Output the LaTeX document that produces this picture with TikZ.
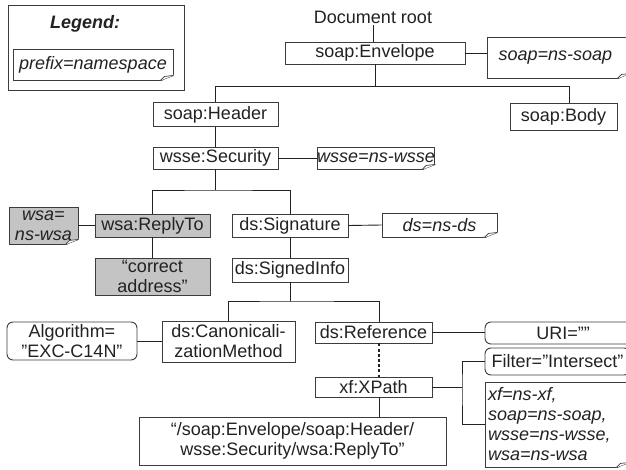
\documentclass[tikz,border=0pt]{standalone}
\usepackage{fontspec}
\setmainfont{Liberation Sans}
\usetikzlibrary{calc}

\definecolor{ink}{RGB}{34,34,34}
\definecolor{edge}{RGB}{60,60,60}
\definecolor{shade}{RGB}{196,196,196}

\tikzset{
  every node/.style={font=\fontsize{18}{20}\selectfont, text=ink},
  box/.style={draw=edge, line width=0.9pt, fill=white, inner sep=0pt, align=center},
  graybox/.style={box, fill=shade},
  roundbox/.style={box, rounded corners=6pt},
  note/.style={box, font=\fontsize{18}{20}\selectfont\itshape},
  ln/.style={draw=ink, line width=0.9pt},
  dotln/.style={draw=ink, line width=2.4pt, dash pattern=on 3pt off 2.2pt},
}

% dog-ear fold at the lower right corner of a note node
\newcommand\foldcorner[1]{%
  \fill[white] ([shift={(1pt,-1pt)}]#1.south east) -- ([shift={(-13pt,-1pt)}]#1.south east)
      -- ([shift={(1pt,6pt)}]#1.south east) -- cycle;
  \draw[draw=edge, line width=0.9pt] ([xshift=-13pt]#1.south east) -- ([yshift=5pt]#1.south east);
  \draw[draw=edge, line width=0.7pt, fill=white, line join=round]
      ([xshift=-13pt]#1.south east) -- ([shift={(-9pt,4pt)}]#1.south east) -- ([yshift=5pt]#1.south east);
}

\begin{document}
\begin{tikzpicture}[x=1pt,y=-1pt]
\useasboundingbox (0,0) rectangle (626,470);
\clip (0,0) rectangle (626,470);
\fill[white] (0,0) rectangle (626,470);

% legend
\node[box, minimum width=176pt, minimum height=85pt] (legend) at (96,47.5) {};
\node[font=\fontsize{18}{20}\selectfont\bfseries\itshape, inner sep=0pt] (legendtitle) at (85,24) {Legend:};
\node[note, minimum width=160pt, minimum height=31pt] (legendnote) at (93,64.5) {prefix=namespace};
\foldcorner{legendnote}

% root
\node[inner sep=2pt] (docroot) at (373,17) {Document root};
\node[box, minimum width=180pt, minimum height=22pt] (env) at (375,53) {soap:Envelope};
\node[note, minimum width=143pt, minimum height=41pt, text width=120pt, align=left] (soapns) at (558.5,57.5) {soap=ns-soap};
\foldcorner{soapns}
\draw[ln] (docroot.south) -- (docroot.south |- env.north);
\draw[ln] (env.east) -- (soapns.west |- env.east);

% header / body
\coordinate (bar1) at (375,86);
\coordinate (bodyjoin) at (569,86);
\node[box, minimum width=125pt, minimum height=24pt] (hdr) at (215.5,114.5) {soap:Header};
\node[box, minimum width=107pt, minimum height=27pt] (body) at (563.5,116.5) {soap:Body};
\draw[ln] (env.south) -- (env.south |- bar1);
\draw[ln] (hdr.north) |- (bodyjoin) -- (bodyjoin |- body.north);

% security
\node[box, minimum width=125pt, minimum height=22pt] (sec) at (215.5,158) {wsse:Security};
\node[note, minimum width=116pt, minimum height=22pt] (wssens) at (376,158) {wsse=ns-wsse};
\foldcorner{wssens}
\draw[ln] (hdr.south) -- (sec.north);
\draw[ln] (sec.east) -- (wssens.west);

% reply-to and signature
\coordinate (bar2) at (215.5,190);
\node[graybox, minimum width=115pt, minimum height=23pt] (replyto) at (152.5,225.5) {wsa:ReplyTo};
\node[note, fill=shade, minimum width=69pt, minimum height=37pt] (wsans) at (43.5,225.5) {wsa=\\ns-wsa};
\foldcorner{wsans}
\node[graybox, minimum width=115pt, minimum height=37pt] (addr) at (152.5,276.5) {“correct\\address”};
\node[box, minimum width=116pt, minimum height=23pt] (sig) at (290,225.5) {ds:Signature};
\node[note, minimum width=115pt, minimum height=24pt] (dsns) at (439.5,225) {ds=ns-ds};
\foldcorner{dsns}
\node[box, minimum width=116pt, minimum height=24pt] (sinfo) at (290,270) {ds:SignedInfo};
\draw[ln] (sec.south) -- (sec.south |- bar2);
\draw[ln] (replyto.north) |- (bar2) -| (sig.north);
\draw[ln] (wsans.east) -- (replyto.west);
\draw[ln] (replyto.south) -- (addr.north);
\draw[ln] (sig.east) -- (dsns.west);
\draw[ln] (sig.south) -- (sinfo.north);

% signed info children
\coordinate (bar3) at (290,301);
\coordinate (refjoin) at (379,301);
\node[box, minimum width=133pt, minimum height=41pt] (canon) at (228.5,341.5) {ds:Canonicali-\\zationMethod};
\node[roundbox, minimum width=130pt, minimum height=38pt] (algo) at (72,341) {Algorithm=\\"EXC-C14N”};
\node[box, minimum width=117pt, minimum height=21pt] (ref) at (373.5,332.5) {ds:Reference};
\node[box, minimum width=117pt, minimum height=20pt] (xpath) at (373.5,387) {xf:XPath};
\node[box, minimum width=307pt, minimum height=48pt] (xpr) at (292.5,441) {“/soap:Envelope/soap:Header/\\wsse:Security/wsa:ReplyTo”};
\node[roundbox, minimum width=156pt, minimum height=22pt] (uri) at (563,333) {URI=””};
\node[roundbox, minimum width=145pt, minimum height=27pt] (filter) at (557.5,361.5) {Filter=”Intersect”};
\node[note, minimum width=144pt, minimum height=85pt, text width=138pt, align=left] (nsnote) at (557,424.5)
  {xf=ns-xf,\\soap=ns-soap,\\wsse=ns-wsse,\\wsa=ns-wsa};
\foldcorner{nsnote}

\draw[ln] (sinfo.south) -- (sinfo.south |- bar3);
\draw[ln] (canon.north) |- (bar3) -| (refjoin) -- (refjoin |- ref.north);
\draw[ln] (algo.east) -- (canon.west |- algo.east);
\draw[dotln] (refjoin |- ref.south) -- (refjoin |- xpath.north);
\draw[ln] (refjoin |- xpath.south) -- (refjoin |- xpr.north);
\draw[ln] (ref.east) -- (uri.west |- ref.east);
\coordinate (fork) at (462,387);
\draw[ln] (xpath.east) -- (fork);
\draw[ln] (filter.west) -| (fork) |- (nsnote.west);
\end{tikzpicture}
\end{document}
